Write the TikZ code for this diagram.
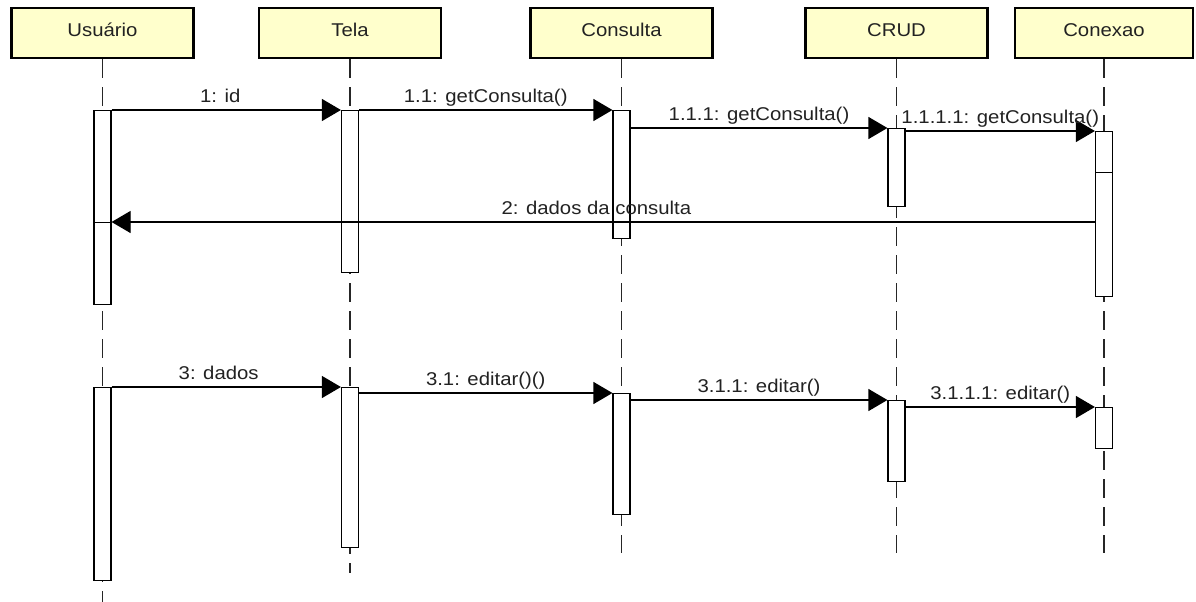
\documentclass[tikz,border=0pt]{standalone}
\usepackage{fontspec}
\setmainfont{Liberation Sans}[FakeStretch=1.1]
\usetikzlibrary{arrows.meta}
\definecolor{hdrfill}{RGB}{255,255,204}
\definecolor{txt}{RGB}{34,34,34}
\begin{document}
\begin{tikzpicture}[x=1pt,y=-1pt,
  hdrbox/.style={draw=black, line width=2.6pt, fill=hdrfill, minimum width=182pt,
     minimum height=50pt, inner sep=0pt, text height=12pt, text depth=5pt,
     font=\fontsize{18.5}{22}\selectfont, text=txt},
  lifeline/.style={draw=black!85, line width=1.4pt, dash pattern=on 19pt off 9pt},
  actbox/.style={draw=black, line width=1.2pt, fill=white, minimum width=17pt, inner sep=0pt, anchor=north},
  msg/.style={draw=black, line width=1.2pt, -{Triangle[length=19pt,width=22pt]}},
  lbl/.style={font=\fontsize{18.5}{22}\selectfont, text=txt, anchor=base, yshift=8pt, inner sep=0pt}
]
\useasboundingbox (0,0) rectangle (1196,602);
\fill[white] (0,0) rectangle (1196,602);

% headers
\node[hdrbox] (hU) at (102.5,33) {Usuário};
\node[hdrbox] (hT) at (350,33) {Tela};
\node[hdrbox] (hC) at (621.5,33) {Consulta};
\node[hdrbox] (hR) at (896.5,33) {CRUD};
\node[hdrbox, minimum width=178pt] (hX) at (1104,33) {Conexao};

% lifeline ends
\coordinate (eU) at (102.5,602);
\coordinate (eT) at (350,573);
\coordinate (eC) at (621.5,553);
\coordinate (eR) at (896.5,553);
\coordinate (eX) at (1104,553);

\draw[lifeline] (hU.south) -- (eU);
\draw[lifeline] (hT.south) -- (eT);
\draw[lifeline] (hC.south) -- (eC);
\draw[lifeline] (hR.south) -- (eR);
\draw[lifeline] (hX.south) -- (eX);

% activation boxes
\node[actbox, minimum height=153pt] (u1) at (102.5,110) {};
\node[actbox, minimum height=82pt] (u1b) at (102.5,222) {};
\node[actbox, minimum height=193pt] (u2) at (102.5,387) {};
\node[actbox, minimum height=162pt] (t1) at (350,110) {};
\node[actbox, minimum height=160pt] (t2) at (350,387) {};
\node[actbox, minimum height=128pt] (c1) at (621.5,110) {};
\node[actbox, minimum height=121pt] (c2) at (621.5,393) {};
\node[actbox, minimum height=78pt] (r1) at (896.5,128) {};
\node[actbox, minimum height=81pt] (r2) at (896.5,400) {};
\node[actbox, minimum height=41pt] (x1) at (1104,131) {};
\node[actbox, minimum height=124pt] (x1b) at (1104,172) {};
\node[actbox, minimum height=41pt] (x2) at (1104,407) {};

% messages
\draw[msg] (u1.north east) -- node[lbl, pos=0.474] {1: id} (t1.north west);
\draw[msg] (t1.north east) -- node[lbl, midway] {1.1: getConsulta()} (c1.north west);
\draw[msg] (c1.east |- r1.north) -- node[lbl, midway] {1.1.1: getConsulta()} (r1.north west);
\draw[msg] (r1.east |- x1.north) -- node[lbl, midway] {1.1.1.1: getConsulta()} (x1.north west);
\draw[msg] (x1b.west |- u1b.north) -- node[lbl, pos=0.507] {2: dados da consulta} (u1b.north east);

\draw[msg] (u2.north east) -- node[lbl, pos=0.467] {3: dados} (t2.north west);
\draw[msg] (t2.east |- c2.north) -- node[lbl, midway] {3.1: editar()()} (c2.north west);
\draw[msg] (c2.east |- r2.north) -- node[lbl, midway] {3.1.1: editar()} (r2.north west);
\draw[msg] (r2.east |- x2.north) -- node[lbl, midway] {3.1.1.1: editar()} (x2.north west);
\end{tikzpicture}
\end{document}
